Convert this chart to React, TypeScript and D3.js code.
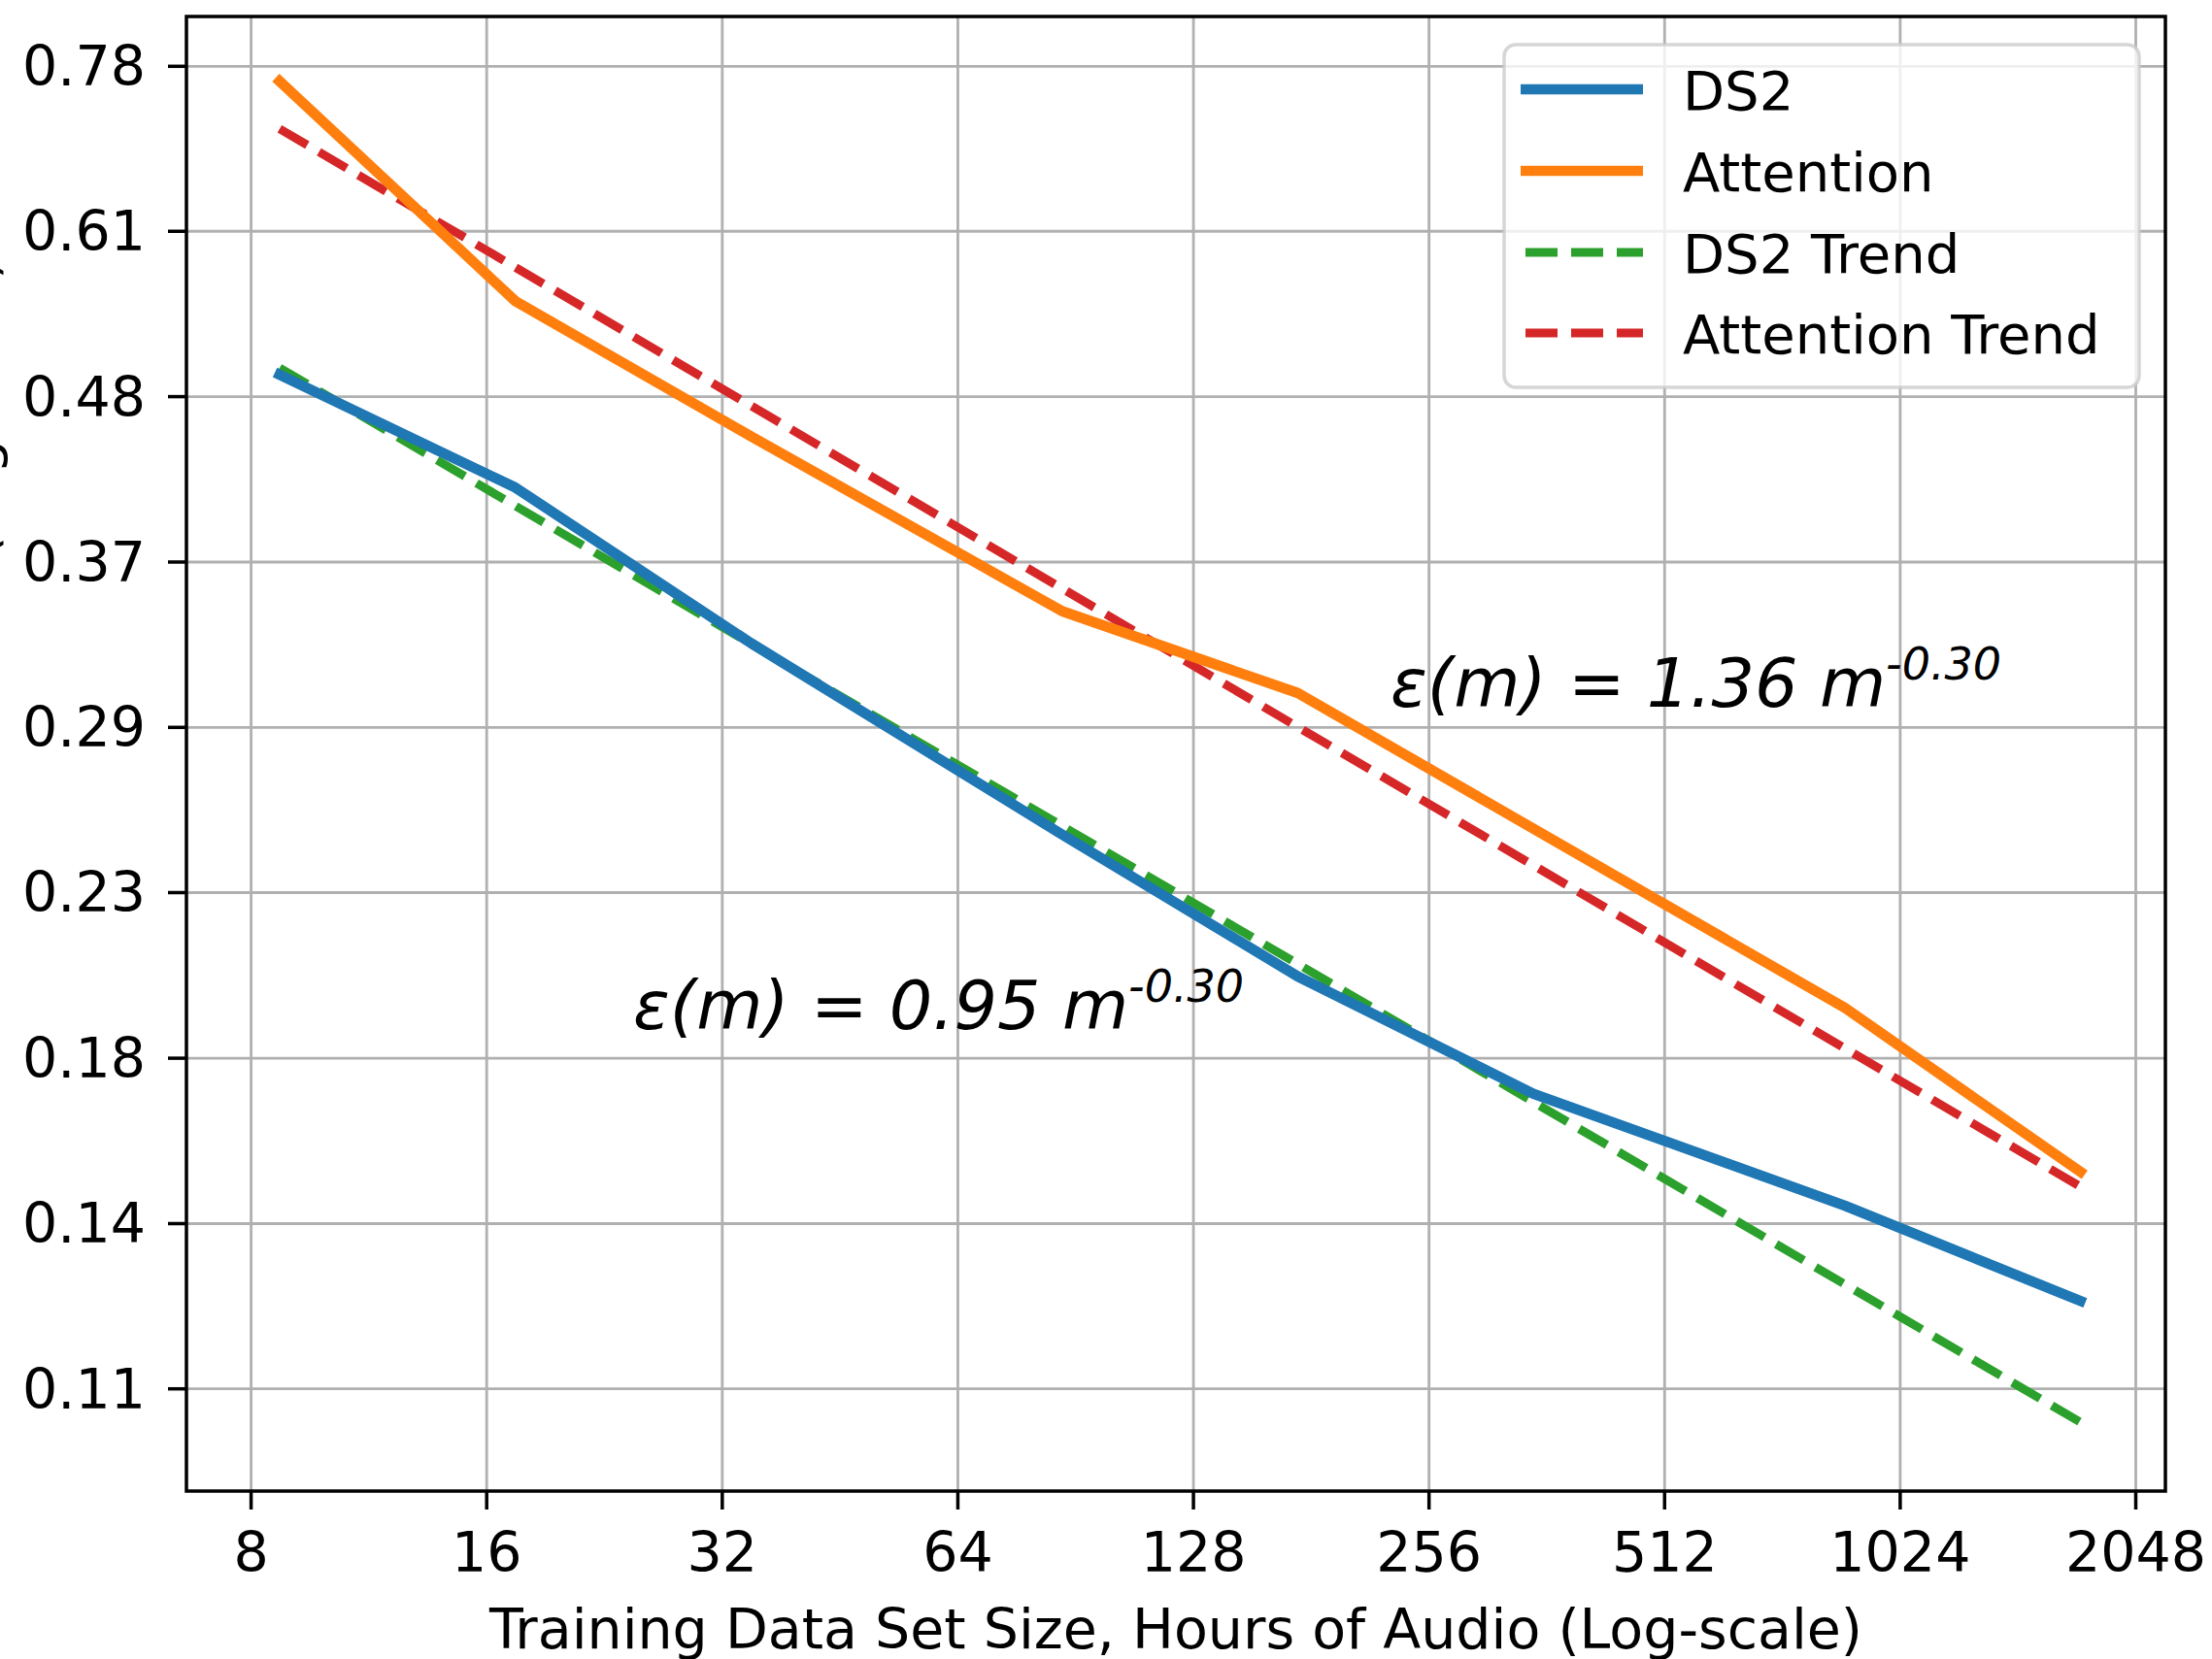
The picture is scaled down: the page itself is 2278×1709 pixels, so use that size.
import React from "react";
import * as d3 from "d3";

// training set sizes (hours) and validation error
const hours = [8.7, 17.4, 34.8, 87, 174, 348, 870, 1740];
const ds2Wer = [0.494, 0.418, 0.332, 0.25, 0.2026, 0.1703, 0.1443, 0.1253];
const attentionWer = [0.763, 0.551, 0.451, 0.348, 0.3083, 0.2522, 0.1934, 0.1517];

// fitted power-law trends (straight on log-log), end points
const trendHours = [8.7, 1740];
const ds2TrendWer = [0.499, 0.1047];
const attentionTrendWer = [0.711, 0.1484];

const xTicks = [8, 16, 32, 64, 128, 256, 512, 1024, 2048];
const yTicks = [0.11, 0.1405, 0.1795, 0.2294, 0.293, 0.3743, 0.4782, 0.6109, 0.78];
const yTickLabels = ["0.11", "0.14", "0.18", "0.23", "0.29", "0.37", "0.48", "0.61", "0.78"];

const seriesNames = ["DS2", "Attention", "DS2 Trend", "Attention Trend"];

const W = 2278;
const H = 1709;
const frame = { left: 192, right: 2230, top: 17, bottom: 1536 };
const font = "'DejaVu Sans', sans-serif";

const styles = [
  { color: "#1f77b4", width: 10.7, dash: null },
  { color: "#ff7f0e", width: 10.7, dash: null },
  { color: "#2ca02c", width: 8.9, dash: "33 14" },
  { color: "#d62728", width: 8.9, dash: "33 14" },
];

export default function App() {
  const x = d3.scaleLog().base(2).domain([8, 2048]).range([258.6, 2199.5]);
  const y = d3.scaleLog().domain([0.11, 0.78]).range([1430.7, 68.3]);
  const line = d3
    .line<[number, number]>()
    .x((d) => x(d[0]))
    .y((d) => y(d[1]));

  const zip = (xs: number[], ys: number[]) => xs.map((v, i) => [v, ys[i]] as [number, number]);
  const paths = [
    zip(hours, ds2Wer),
    zip(hours, attentionWer),
    zip(trendHours, ds2TrendWer),
    zip(trendHours, attentionTrendWer),
  ];
  // trends are drawn under the measured curves
  const drawOrder = [2, 3, 0, 1];

  const legend = { x: 1549, y: 46, w: 654, h: 353 };
  const rowY = [92, 176, 260, 343];

  return (
    <svg
      width={W}
      height={H}
      style={{ position: "absolute", left: 0, top: 0, background: "#fff" }}
      fontFamily={font}
    >
      <rect width={W} height={H} fill="#fff" />

      {/* grid */}
      {xTicks.map((t) => (
        <line key={"gx" + t} x1={x(t)} x2={x(t)} y1={frame.top} y2={frame.bottom} stroke="#b0b0b0" strokeWidth={2.8} />
      ))}
      {yTicks.map((t) => (
        <line key={"gy" + t} x1={frame.left} x2={frame.right} y1={y(t)} y2={y(t)} stroke="#b0b0b0" strokeWidth={2.8} />
      ))}

      {/* series */}
      {drawOrder.map((i) => (
        <path
          key={"s" + i}
          d={line(paths[i]) || ""}
          fill="none"
          stroke={styles[i].color}
          strokeWidth={styles[i].width}
          strokeDasharray={styles[i].dash || undefined}
          strokeLinecap={styles[i].dash ? "butt" : "square"}
          strokeLinejoin="round"
        />
      ))}

      {/* annotations */}
      <text x={1432} y={728} fontSize={70} fontStyle="italic" fill="#000">
        ε(m) = 1.36 m
        <tspan dy={-28} fontSize={46}>-0.30</tspan>
      </text>
      <text x={652} y={1060} fontSize={70} fontStyle="italic" fill="#000">
        ε(m) = 0.95 m
        <tspan dy={-28} fontSize={46}>-0.30</tspan>
      </text>

      {/* frame */}
      <rect
        x={frame.left}
        y={frame.top}
        width={frame.right - frame.left}
        height={frame.bottom - frame.top}
        fill="none"
        stroke="#000"
        strokeWidth={3.5}
      />

      {/* x axis */}
      {xTicks.map((t) => (
        <g key={"xt" + t}>
          <line x1={x(t)} x2={x(t)} y1={frame.bottom} y2={frame.bottom + 19} stroke="#000" strokeWidth={3.5} />
          <text x={x(t)} y={1619} fontSize={57} textAnchor="middle" fill="#000">
            {t}
          </text>
        </g>
      ))}
      <text x={(frame.left + frame.right) / 2} y={1698} fontSize={57} textAnchor="middle" fill="#000">
        Training Data Set Size, Hours of Audio (Log-scale)
      </text>

      {/* y axis */}
      {yTicks.map((t, i) => (
        <g key={"yt" + t}>
          <line x1={frame.left - 19} x2={frame.left} y1={y(t)} y2={y(t)} stroke="#000" strokeWidth={3.5} />
          <text x={150} y={y(t) + 20} fontSize={57} textAnchor="end" fill="#000">
            {yTickLabels[i]}
          </text>
        </g>
      ))}
      <text transform="translate(-4,266) rotate(-90)" fontSize={56} textAnchor="end" fill="#000">
        Validation Word Error Rate (Log-scale)
      </text>

      {/* legend */}
      <rect
        x={legend.x}
        y={legend.y}
        width={legend.w}
        height={legend.h}
        rx={12}
        fill="#fff"
        fillOpacity={0.8}
        stroke="#cccccc"
        strokeOpacity={0.8}
        strokeWidth={3.5}
      />
      {seriesNames.map((name, i) => (
        <g key={"lg" + i}>
          <line
            x1={1566}
            x2={1692}
            y1={rowY[i]}
            y2={rowY[i]}
            stroke={styles[i].color}
            strokeWidth={styles[i].width}
            strokeDasharray={styles[i].dash || undefined}
            strokeDashoffset={styles[i].dash ? -5 : 0}
          />
          <text x={1733} y={rowY[i] + 21} fontSize={56} fill="#000">
            {name}
          </text>
        </g>
      ))}
    </svg>
  );
}
